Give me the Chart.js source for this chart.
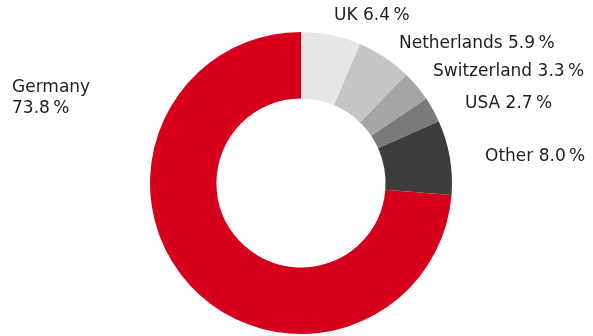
<!DOCTYPE html>
<html><head><meta charset="utf-8">
<script src="https://cdn.jsdelivr.net/npm/chart.js@4"></script>
<style>html,body{margin:0;padding:0;background:#fff}#wrap{width:593px;height:336px}</style>
</head><body><div id="wrap"><canvas id="c" width="593" height="336"></canvas></div>
<script>
const categories = ["UK", "Netherlands", "Switzerland", "USA", "Other", "Germany"];
const shares = [6.4, 5.9, 3.3, 2.7, 8.0, 73.8];
const colors = ["#e6e6e6", "#c4c5c4", "#a6a6a6", "#7a7a7a", "#3d3d3d", "#d6001c"];
// label anchor (left x, baseline of first line); Germany is split onto two lines
const labelPos = [[334,20],[399,48],[433,76],[465,108],[485,161],[12,92]];
const twoLine = [false,false,false,false,false,true];

const fmt = v => v.toFixed(1) + "\u2009%";

const labelPlugin = {
  id: 'outLabels',
  afterDraw(chart) {
    const ctx = chart.ctx;
    ctx.save();
    ctx.fillStyle = '#1e1e1e';
    ctx.font = '17px "DejaVu Sans"';
    ctx.textBaseline = 'alphabetic';
    ctx.textAlign = 'left';
    categories.forEach((c, i) => {
      const [x, y] = labelPos[i];
      if (twoLine[i]) {
        ctx.fillText(c, x, y);
        ctx.fillText(fmt(shares[i]), x, y + 21);
      } else {
        ctx.fillText(c + ' ' + fmt(shares[i]), x, y);
      }
    });
    ctx.restore();
  }
};

new Chart(document.getElementById('c'), {
  type: 'doughnut',
  data: { labels: categories, datasets: [{ data: shares, backgroundColor: colors, borderWidth: 0 }] },
  options: {
    responsive: false,
    animation: false,
    cutout: '56%',
    layout: { padding: { top: 32, bottom: 2, left: 9, right: 0 } },
    plugins: { legend: { display: false }, tooltip: { enabled: false } }
  },
  plugins: [labelPlugin]
});
</script></body></html>
